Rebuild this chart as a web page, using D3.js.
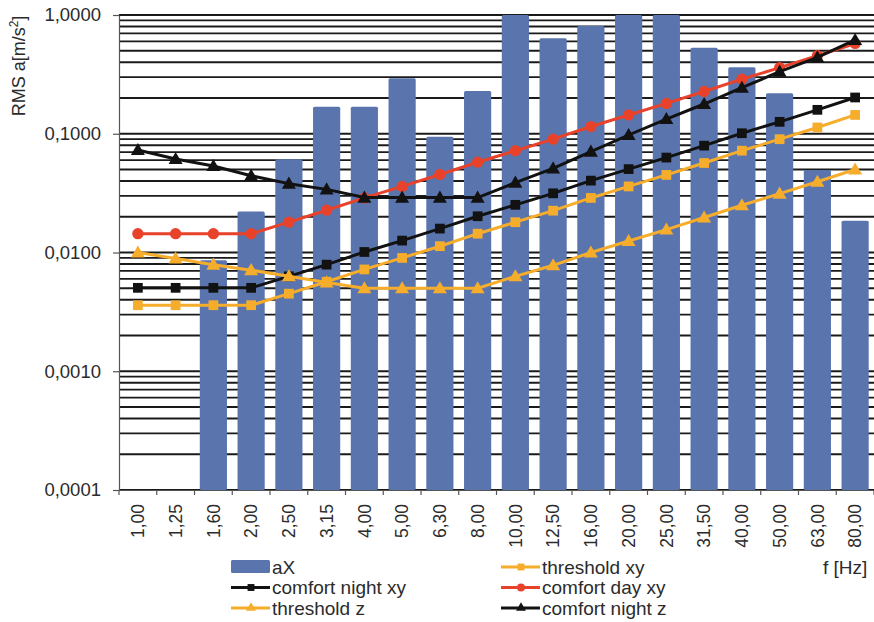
<!DOCTYPE html>
<html>
<head>
<meta charset="utf-8">
<script src="https://cdn.jsdelivr.net/npm/d3@7"></script>
<style>
  body { margin: 0; background: #fff; }
  text { font-family: "Liberation Sans", Arial, sans-serif; fill: #2b2b2b; }
</style>
</head>
<body>
<svg id="chart" width="874" height="622"></svg>
<script>
// Frequency bands (Hz)
const categories = ["1,00","1,25","1,60","2,00","2,50","3,15","4,00","5,00","6,30","8,00",
                    "10,00","12,50","16,00","20,00","25,00","31,50","40,00","50,00","63,00","80,00"];

// Measured RMS acceleration, x direction (m/s²)
const aX = [null, null, 0.0086, 0.0221, 0.0609, 0.169, 0.169, 0.293, 0.0944, 0.229,
            1.0, 0.636, 0.808, 1.0, 1.0, 0.531, 0.3625, 0.219, 0.0495, 0.0185];

// Reference curves (m/s²)
const thresholdXY = [0.0036, 0.0036, 0.0036, 0.0036, 0.0045, 0.00567, 0.0072, 0.009, 0.0113, 0.0144,
                     0.018, 0.0225, 0.0288, 0.036, 0.045, 0.0567, 0.072, 0.09, 0.113, 0.144];
const comfortNightXY = [0.00504, 0.00504, 0.00504, 0.00504, 0.0063, 0.0079, 0.0101, 0.0126, 0.0159, 0.0202,
                        0.0252, 0.0315, 0.0403, 0.0504, 0.063, 0.0794, 0.101, 0.126, 0.159, 0.202];
const comfortDayXY = [0.0144, 0.0144, 0.0144, 0.0144, 0.018, 0.0227, 0.0288, 0.036, 0.0454, 0.0576,
                      0.072, 0.09, 0.115, 0.144, 0.18, 0.227, 0.288, 0.36, 0.454, 0.576];
const thresholdZ = [0.01, 0.0089, 0.0079, 0.0071, 0.0063, 0.0056, 0.005, 0.005, 0.005, 0.005,
                    0.0063, 0.0078, 0.01, 0.0125, 0.0156, 0.0197, 0.025, 0.0313, 0.0394, 0.05];
const comfortNightZ = [0.073, 0.0612, 0.0535, 0.0443, 0.038, 0.034, 0.029, 0.029, 0.029, 0.029,
                       0.0387, 0.0511, 0.0706, 0.0976, 0.133, 0.178, 0.244, 0.333, 0.44, 0.616];

// Y axis ticks
const yTicks = [1, 0.1, 0.01, 0.001, 0.0001];
const yTickLabels = ["1,0000", "0,1000", "0,0100", "0,0010", "0,0001"];

const seriesNames = ["aX", "threshold xy", "comfort night xy", "comfort day xy", "threshold z", "comfort night z"];

const svg = d3.select("#chart");
const plotLeft = 119, plotRight = 874, plotTop = 15, plotBottom = 490;

const x = d3.scaleBand().domain(categories).range([plotLeft, plotRight])
  .paddingInner(0.28).paddingOuter(0.14);
const y = d3.scaleLog().domain([0.0001, 1]).range([plotBottom, plotTop]);
const cx = c => x(c) + x.bandwidth() / 2;

// Horizontal grid at every minor log step
const gridVals = [];
[0.0001, 0.001, 0.01, 0.1].forEach(d => { for (let k = 1; k <= 9; k++) gridVals.push(k * d); });
gridVals.push(1);
svg.append("g").selectAll("line").data(gridVals).join("line")
  .attr("x1", plotLeft).attr("x2", plotRight)
  .attr("y1", d => y(d)).attr("y2", d => y(d))
  .attr("stroke", "#1a1a1a").attr("stroke-width", 1.8);

// Bars
const barColor = "#5a75ae";
svg.append("g").selectAll("rect")
  .data(categories.map((c, i) => ({ c, v: aX[i] })).filter(d => d.v != null))
  .join("rect")
  .attr("x", d => x(d.c)).attr("width", x.bandwidth())
  .attr("y", d => y(d.v)).attr("height", d => plotBottom - y(d.v))
  .attr("rx", 1.5)
  .attr("fill", barColor);

// Y axis
const yAxis = svg.append("g").attr("transform", `translate(${plotLeft},0)`)
  .call(d3.axisLeft(y).tickValues(yTicks).tickFormat((d, i) => yTickLabels[i])
        .tickSize(6).tickSizeOuter(0).tickPadding(12));
yAxis.selectAll("path, line").attr("stroke", "#555").attr("stroke-width", 1.2);
yAxis.selectAll("text").style("font-size", "18.5px").attr("fill", "#2b2b2b")
  .style("font-family", "'Liberation Sans', Arial, sans-serif");

// X axis: labels from the band scale, ticks on band boundaries
const xAxis = svg.append("g").attr("transform", `translate(0,${plotBottom})`)
  .call(d3.axisBottom(x).tickSize(0).tickSizeOuter(0).tickPadding(0));
xAxis.select("path").attr("stroke", "#555").attr("stroke-width", 1.2);
xAxis.selectAll("text")
  .attr("transform", "rotate(-90)")
  .attr("x", -14).attr("y", 0).attr("dy", "0.36em")
  .attr("text-anchor", "end")
  .style("font-size", "17.5px").attr("fill", "#2b2b2b")
  .style("font-family", "'Liberation Sans', Arial, sans-serif");
const bounds = categories.map(c => x(c) - x.step() * x.paddingInner() / 2);
bounds.push(plotRight);
svg.append("g").selectAll("line").data(bounds).join("line")
  .attr("x1", d => d).attr("x2", d => d)
  .attr("y1", plotBottom).attr("y2", plotBottom + 5)
  .attr("stroke", "#555").attr("stroke-width", 1.2);

// Axis titles
svg.append("text")
  .attr("transform", "translate(25,66) rotate(-90)")
  .attr("text-anchor", "middle")
  .style("font-size", "18px")
  .call(t => {
    t.append("tspan").text("RMS a[m/s");
    t.append("tspan").text("2").attr("dy", "-7").style("font-size", "12px");
    t.append("tspan").text("]").attr("dy", "7");
  });
svg.append("text").attr("x", 823).attr("y", 574).style("font-size", "19px").text("f [Hz]");

// Line series
const black = "#121212", yellow = "#f6ad2c", red = "#e8422b";
const lines = [
  { name: seriesNames[1], values: thresholdXY, color: yellow, marker: "square" },
  { name: seriesNames[2], values: comfortNightXY, color: black, marker: "square" },
  { name: seriesNames[3], values: comfortDayXY, color: red, marker: "circle" },
  { name: seriesNames[4], values: thresholdZ, color: yellow, marker: "triangle" },
  { name: seriesNames[5], values: comfortNightZ, color: black, marker: "triangle" }
];
const symbolOf = { square: d3.symbolSquare, circle: d3.symbolCircle, triangle: d3.symbolTriangle };
const sizeOf = { square: 95, circle: 100, triangle: 85 };
const lineGen = d3.line().x(d => cx(d.c)).y(d => y(d.v));

lines.forEach(s => {
  const pts = categories.map((c, i) => ({ c, v: s.values[i] }));
  const g = svg.append("g");
  g.append("path").datum(pts).attr("d", lineGen)
    .attr("fill", "none").attr("stroke", s.color).attr("stroke-width", 3)
    .attr("stroke-linejoin", "round");
  g.selectAll("path.m").data(pts).join("path").attr("class", "m")
    .attr("transform", d => `translate(${cx(d.c)},${y(d.v) + (s.marker === "triangle" ? 1 : 0)})`)
    .attr("d", d3.symbol().type(symbolOf[s.marker]).size(sizeOf[s.marker]))
    .attr("fill", s.color);
});

// Legend (two columns, row-major order)
const legendPos = [
  { x: 231, y: 567 }, { x: 501, y: 567 },
  { x: 231, y: 587.5 }, { x: 501, y: 587.5 },
  { x: 231, y: 608 }, { x: 501, y: 608 }
];
const legend = svg.append("g");
seriesNames.forEach((name, i) => {
  const p = legendPos[i];
  const g = legend.append("g").attr("transform", `translate(${p.x},${p.y})`);
  if (i === 0) {
    g.append("rect").attr("x", 0).attr("y", -7).attr("width", 39).attr("height", 13)
      .attr("rx", 1.5).attr("fill", barColor);
  } else {
    const s = lines[i - 1];
    g.append("line").attr("x1", 0).attr("x2", 39).attr("y1", 0).attr("y2", 0)
      .attr("stroke", s.color).attr("stroke-width", 3);
    g.append("path").attr("transform", "translate(20,0)")
      .attr("d", d3.symbol().type(symbolOf[s.marker]).size(sizeOf[s.marker] * 0.5))
      .attr("fill", s.color);
  }
  g.append("text").attr("x", 41).attr("y", 0).attr("dy", "0.35em")
    .style("font-size", "19px").text(name);
});
</script>
</body>
</html>
